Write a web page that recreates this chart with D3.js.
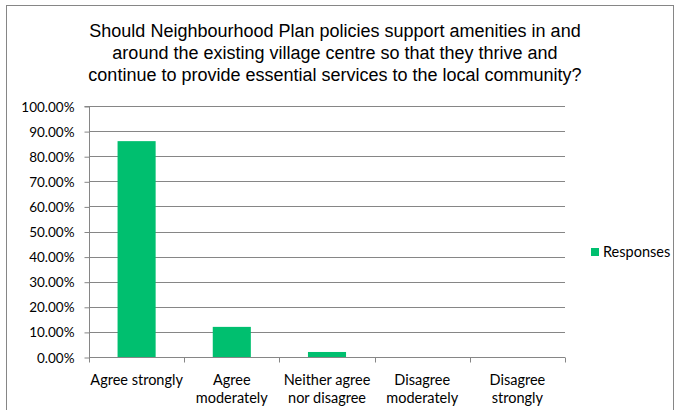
<!DOCTYPE html>
<html><head><meta charset="utf-8">
<script src="https://cdn.jsdelivr.net/npm/d3@7"></script>
<style>body{margin:0;background:#fff}svg{display:block}</style>
</head><body>
<svg id="c" width="680" height="410"></svg>
<script>
const titleLines = ["Should Neighbourhood Plan policies support amenities in and","around the existing village centre so that they thrive and","continue to provide essential services to the local community?"];
const categories = ["Agree strongly","Agree moderately","Neither agree nor disagree","Disagree moderately","Disagree strongly"];
const categoryLines = [["Agree strongly"],["Agree","moderately"],["Neither agree","nor disagree"],["Disagree","moderately"],["Disagree","strongly"]];
const responses = [0.86, 0.12, 0.02, 0, 0];
const yTicks = [0,0.1,0.2,0.3,0.4,0.5,0.6,0.7,0.8,0.9,1.0];
const seriesName = "Responses";

const svg = d3.select("#c");
const m = {l:89, r:565, t:106, b:357};
svg.append("rect").attr("x",6.5).attr("y",5.5).attr("width",667).attr("height",420).attr("fill","#fff").attr("stroke","#868686");

const x = d3.scaleBand().domain(categories).range([m.l,m.r]).paddingInner(0).paddingOuter(0);
const y = d3.scaleLinear().domain([0,1]).range([m.b,m.t]);

svg.append("g").selectAll("text").data(titleLines).join("text")
  .attr("x",335).attr("y",(d,i)=>37+i*22).attr("text-anchor","middle")
  .attr("font-family","Liberation Sans, Arial").attr("font-size",18).attr("fill","#000").text(d=>d);

// gridlines
svg.append("g").selectAll("line").data(yTicks.filter(v=>v>0)).join("line")
  .attr("x1",m.l).attr("x2",m.r).attr("y1",d=>Math.round(y(d))+0.5).attr("y2",d=>Math.round(y(d))+0.5)
  .attr("stroke","#868686").attr("stroke-width",1);

// bars
const bw = x.bandwidth()*0.4;
svg.append("g").selectAll("rect").data(responses).join("rect")
  .attr("x",(d,i)=>x(categories[i])+(x.bandwidth()-bw)/2).attr("width",bw)
  .attr("y",d=>y(d)).attr("height",d=>y(0)-y(d)).attr("fill","#00BF6F");

// y axis
const ya = d3.axisLeft(y).tickValues(yTicks).tickFormat(d=>(d*100).toFixed(2)+"%").tickSize(5).tickPadding(10);
const gy = svg.append("g").attr("transform",`translate(${m.l+0.5},0.5)`).call(ya);
gy.selectAll("line,path").attr("stroke","#868686");
gy.select(".domain").attr("d",`M-5,${m.t}H0V${m.b}`);
gy.selectAll("text").attr("font-family","Lato, Carlito, Calibri, sans-serif").attr("font-size",13.5).attr("fill","#000").attr("dy","0.34em");

// x axis
const gx = svg.append("g").attr("transform",`translate(0,${m.b+0.5})`);
gx.append("line").attr("x1",m.l).attr("x2",m.r).attr("stroke","#868686");
const bounds = categories.map(c=>x(c)).concat([m.r]);
gx.selectAll("line.t").data(bounds).join("line").attr("class","t")
  .attr("x1",d=>Math.round(d)+0.5).attr("x2",d=>Math.round(d)+0.5).attr("y1",0).attr("y2",5).attr("stroke","#868686");
const lab = gx.selectAll("text").data(categoryLines).join("text")
  .attr("text-anchor","middle").attr("font-family","Lato, Carlito, Calibri, sans-serif").attr("font-size",14.5).attr("fill","#000")
  .attr("transform",(d,i)=>`translate(${x(categories[i])+x.bandwidth()/2},0)`);
lab.selectAll("tspan").data(d=>d).join("tspan").attr("x",0).attr("y",(d,i)=>27+i*18).text(d=>d);

// legend
const lg = svg.append("g");
lg.append("rect").attr("x",591).attr("y",248).attr("width",8).attr("height",8).attr("fill","#00BF6F");
lg.append("text").attr("x",603).attr("y",257).attr("font-family","Lato, Carlito, Calibri, sans-serif").attr("font-size",14.5).attr("fill","#000").text(seriesName);
</script>
</body></html>
